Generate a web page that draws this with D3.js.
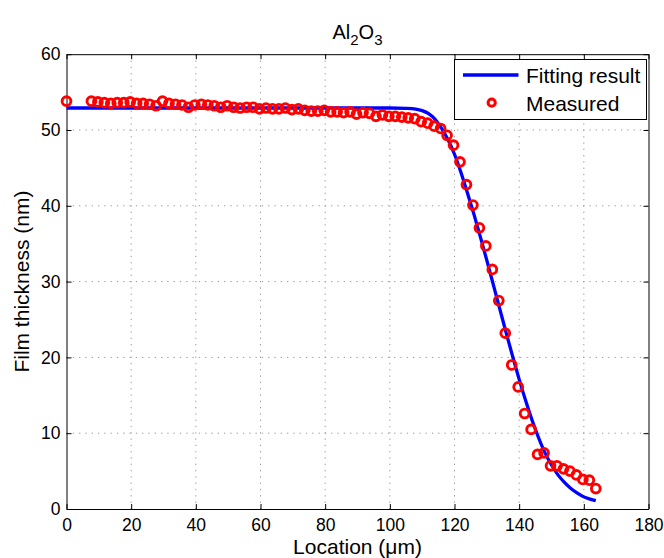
<!DOCTYPE html>
<html>
<head>
<meta charset="utf-8">
<script src="https://cdn.jsdelivr.net/npm/d3@7"></script>
<style>
  body { margin: 0; background: #fff; }
  svg text { font-family: "Liberation Sans", Arial, Helvetica, sans-serif; fill: #000; }
</style>
</head>
<body>
<script>
// measured points (location in um, thickness in nm)
const measX = [0, 7.7, 9.7, 11.7, 13.7, 15.7, 17.7, 19.7, 21.7, 23.7, 25.7, 27.7, 29.7, 31.7, 33.7, 35.7, 37.7, 39.7,
  41.7, 43.7, 45.7, 47.7, 49.7, 51.7, 53.7, 55.7, 57.7, 59.7, 61.7, 63.7, 65.7, 67.7, 69.7, 71.7, 73.7, 75.7, 77.7,
  79.7, 81.7, 83.7, 85.7, 87.7, 89.7, 91.7, 93.7, 95.7, 97.7, 99.7, 101.7, 103.7, 105.7, 107.7, 109.7, 111.7, 113.7,
  115.7, 117.7, 119.7, 121.7, 123.7, 125.7, 127.7, 129.7, 131.7, 133.7, 135.7, 137.7, 139.7, 141.7, 143.7, 145.7,
  147.7, 149.7, 151.7, 153.7, 155.7, 157.7, 159.7, 161.7, 163.7];
const measY = [53.8, 53.8, 53.7, 53.6, 53.5, 53.6, 53.6, 53.7, 53.5, 53.5, 53.4, 53.2, 53.8, 53.5, 53.4, 53.3, 53.0, 53.3,
  53.4, 53.3, 53.2, 53.0, 53.2, 53.0, 52.9, 53.0, 53.0, 52.8, 52.9, 52.8, 52.8, 52.9, 52.7, 52.8, 52.6, 52.5, 52.5,
  52.6, 52.4, 52.4, 52.3, 52.4, 52.1, 52.3, 52.2, 51.8, 52.0, 51.8, 51.8, 51.7, 51.6, 51.5, 51.1, 50.9, 50.5,
  50.2, 49.3, 48.0, 45.8, 42.8, 40.1, 37.1, 34.7, 31.6, 27.5, 23.2, 19.0, 16.1, 12.6, 10.5, 7.2,
  7.4, 5.7, 5.7, 5.3, 5.0, 4.5, 3.9, 3.8, 2.7];

// fitted curve
const fitX = [0, 100, 105, 108, 110, 112, 114, 116, 118, 120, 122, 124, 126, 128, 130, 132, 134, 136, 138, 140,
  142, 144, 146, 148, 150, 152, 154, 156, 158, 160, 162, 163.7];
const fitY = [52.9, 52.9, 52.85, 52.75, 52.55, 52.15, 51.4, 50.2, 48.7, 46.8, 44.4, 41.7, 38.9, 35.9, 32.8, 29.6, 26.4,
  23.2, 20.1, 17.1, 14.3, 11.7, 9.4, 7.4, 5.8, 4.5, 3.5, 2.7, 2.1, 1.6, 1.3, 1.1];

const xTicks = [0, 20, 40, 60, 80, 100, 120, 140, 160, 180];
const yTicks = [0, 10, 20, 30, 40, 50, 60];
const legendLabels = ["Fitting result", "Measured"];

const W = 664, H = 558;
const m = {left: 66.5, right: 15.5, top: 54.2, bottom: 49};
const iw = W - m.left - m.right, ih = H - m.top - m.bottom;

const svg = d3.select("body").append("svg").attr("width", W).attr("height", H);
const g = svg.append("g").attr("transform", `translate(${m.left},${m.top})`);

const x = d3.scaleLinear().domain([0, 180]).range([0, iw]);
const y = d3.scaleLinear().domain([0, 60]).range([ih, 0]);

// grid
g.append("g").selectAll("line").data(xTicks.slice(1, -1)).enter().append("line")
  .attr("x1", d => x(d)).attr("x2", d => x(d)).attr("y1", 0).attr("y2", ih)
  .attr("stroke", "#999").attr("stroke-dasharray", "1.3,5");
g.append("g").selectAll("line").data(yTicks.slice(1, -1)).enter().append("line")
  .attr("y1", d => y(d)).attr("y2", d => y(d)).attr("x1", 0).attr("x2", iw)
  .attr("stroke", "#999").attr("stroke-dasharray", "1.3,5");

// axes (ticks inward, box on)
const fs = "17.5px";
const bx = g.append("g").attr("transform", `translate(0,${ih})`)
  .call(d3.axisBottom(x).tickValues(xTicks).tickSize(-5).tickSizeOuter(0).tickPadding(9.5));
const tx = g.append("g")
  .call(d3.axisTop(x).tickValues(xTicks).tickSize(-5).tickSizeOuter(0).tickFormat(""));
const ly = g.append("g")
  .call(d3.axisLeft(y).tickValues(yTicks).tickSize(-5).tickSizeOuter(0).tickPadding(6));
const ry = g.append("g").attr("transform", `translate(${iw},0)`)
  .call(d3.axisRight(y).tickValues(yTicks).tickSize(-5).tickSizeOuter(0).tickFormat(""));
[bx, tx, ly, ry].forEach(a => {
  a.selectAll("path, line").attr("stroke", "#000").attr("stroke-width", 1);
  a.selectAll("text").attr("font-size", fs).attr("font-family", null);
});

// fitted line
const line = d3.line().x((d, i) => x(fitX[i])).y(d => y(d)).curve(d3.curveMonotoneX);
g.append("path").datum(fitY).attr("d", line)
  .attr("fill", "none").attr("stroke", "#0000ff").attr("stroke-width", 3.3);

// measured markers
g.append("g").selectAll("circle").data(measY).enter().append("circle")
  .attr("cx", (d, i) => x(measX[i])).attr("cy", d => y(d)).attr("r", 4.4)
  .attr("fill", "none").attr("stroke", "#ff0000").attr("stroke-width", 2.9);

// title
const t = svg.append("text").attr("x", m.left + iw / 2).attr("y", 39)
  .attr("text-anchor", "middle").attr("font-size", "20px");
t.append("tspan").text("Al");
t.append("tspan").attr("font-size", "15px").attr("dy", 6).text("2");
t.append("tspan").attr("dy", -6).text("O");
t.append("tspan").attr("font-size", "15px").attr("dy", 6).text("3");

// axis labels
svg.append("text").attr("x", m.left + iw / 2).attr("y", 554)
  .attr("text-anchor", "middle").attr("font-size", "21px").text("Location (\u03bcm)");
svg.append("text").attr("transform", `translate(29,${m.top + ih / 2}) rotate(-90)`)
  .attr("text-anchor", "middle").attr("font-size", "21px").text("Film thickness (nm)");

// legend
const lg = svg.append("g");
lg.append("rect").attr("x", 454.5).attr("y", 59.5).attr("width", 192).attr("height", 60)
  .attr("fill", "#fff").attr("stroke", "#000").attr("stroke-width", 1);
lg.append("line").attr("x1", 463).attr("x2", 518.5).attr("y1", 75).attr("y2", 75)
  .attr("stroke", "#0000ff").attr("stroke-width", 3.3);
lg.append("circle").attr("cx", 491.7).attr("cy", 102.7).attr("r", 3.6)
  .attr("fill", "none").attr("stroke", "#ff0000").attr("stroke-width", 3);
lg.selectAll("text.lab").data(legendLabels).enter().append("text").attr("class", "lab")
  .attr("x", 526).attr("y", (d, i) => 82.5 + i * 28).attr("font-size", "21px").text(d => d);
</script>
</body>
</html>
